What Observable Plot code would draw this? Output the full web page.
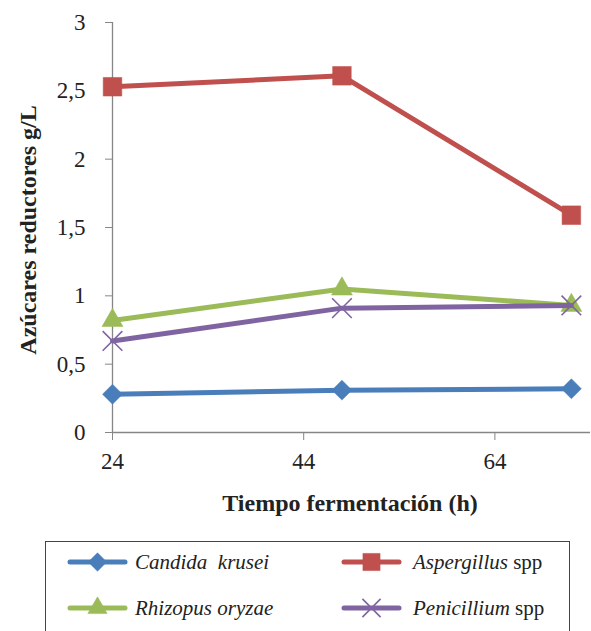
<!DOCTYPE html>
<html>
<head>
<meta charset="utf-8">
<script src="https://cdn.jsdelivr.net/npm/d3@7"></script>
<script src="https://cdn.jsdelivr.net/npm/@observablehq/plot@0.6"></script>
<style>
  html, body { margin: 0; padding: 0; background: #fff; }
  #wrap { position: relative; width: 591px; height: 631px; overflow: hidden; font-family: "Liberation Serif", "Times New Roman", serif; color: #222; }
  #wrap svg text { font-family: "Liberation Serif", "Times New Roman", serif; }
  .axis-title { position: absolute; font-weight: bold; font-size: 24px; white-space: nowrap; line-height: 1; }
  #legend { position: absolute; left: 45px; top: 541px; width: 525px; height: 120px; border: 1px solid #444; box-sizing: border-box; background: #fff; }
  .sw { position: absolute; }
  .lt { position: absolute; font-size: 21px; white-space: pre; line-height: 24px; height: 24px; }
</style>
</head>
<body>
<div id="wrap"></div>
<script>
// ---- data ----
const hours = [24, 48, 72];
const candida = [0.28, 0.31, 0.32];
const aspergillus = [2.53, 2.61, 1.59];
const rhizopus = [0.82, 1.05, 0.93];
const penicillium = [0.67, 0.91, 0.93];

const seriesNames = ["Candida krusei", "Aspergillus spp", "Rhizopus oryzae", "Penicillium spp"];
const seriesValues = [candida, aspergillus, rhizopus, penicillium];
const seriesColors = ["#4A7EBB", "#C0504D", "#9BBB59", "#8064A2"];
const seriesSymbols = ["diamond2", "square", "triangle", "times"];
const seriesR = [9, 10.5, 7.8, 9];

const xTicks = [24, 44, 64];
const yTicks = [0, 0.5, 1, 1.5, 2, 2.5, 3];

const xTitle = "Tiempo fermentación (h)";
const yTitle = "Azúcares reductores g/L";

const rows = [];
seriesNames.forEach((s, i) => hours.forEach((h, j) => rows.push({series: s, hour: h, value: seriesValues[i][j]})));

const axisGray = "#868686";
const fmt = d => String(d).replace(".", ",");

const dotMarks = seriesNames.map((s, i) => {
  const data = rows.filter(r => r.series === s);
  const isTimes = seriesSymbols[i] === "times";
  return Plot.dot(data, {
    x: "hour", y: "value", symbol: () => seriesSymbols[i], r: seriesR[i],
    fill: isTimes ? "none" : seriesColors[i],
    stroke: seriesColors[i], strokeWidth: isTimes ? 1.6 : 0.5
  });
});
const lineMarks = seriesNames.map((s, i) => Plot.line(rows.filter(r => r.series === s), {
  x: "hour", y: "value", stroke: seriesColors[i], strokeWidth: 5
}));

const marks = [
  Plot.ruleY([0], {stroke: axisGray, strokeWidth: 1.3}),
  Plot.ruleX([24], {stroke: axisGray, strokeWidth: 1.3}),
  Plot.axisX({ticks: xTicks, tickSize: 8, tickPadding: 12, stroke: axisGray, fill: "#222", label: null, tickFormat: d => String(d)}),
  Plot.axisY({ticks: yTicks, tickSize: 7, tickPadding: 20, stroke: axisGray, fill: "#222", label: null, tickFormat: fmt})
];
seriesNames.forEach((s, i) => { marks.push(lineMarks[i]); marks.push(dotMarks[i]); });

const chart = Plot.plot({
  width: 591, height: 530,
  marginLeft: 112, marginRight: 1, marginTop: 22, marginBottom: 98,
  x: {domain: [24, 74]},
  y: {domain: [0, 3]},
  symbol: {type: "identity"},
  style: {fontFamily: "'Liberation Serif', 'Times New Roman', serif", fontSize: "23px", background: "#fff", color: "#222", overflow: "visible"},
  marks
});

const wrap = document.getElementById("wrap");
wrap.appendChild(chart);

const yt = document.createElement("div");
yt.className = "axis-title";
yt.textContent = yTitle;
yt.style.left = "28px"; yt.style.top = "230px";
yt.style.transform = "translate(-50%, -50%) rotate(-90deg)";
wrap.appendChild(yt);

const xt = document.createElement("div");
xt.className = "axis-title";
xt.textContent = xTitle;
xt.style.left = "350px"; xt.style.top = "503px";
xt.style.transform = "translate(-50%, -50%)";
wrap.appendChild(xt);

// legend
const legend = document.createElement("div");
legend.id = "legend";
wrap.appendChild(legend);
const legendLabels = [
  ["Candida  krusei", ""],
  ["Aspergillus", " spp"],
  ["Rhizopus oryzae", ""],
  ["Penicillium", " spp"]
];
// [swatch left, text left, row center] relative to legend box
const pos = [[21, 89, 20], [295, 367, 20], [21, 89, 66], [295, 367, 66]];
const symMap = {diamond2: d3.symbolDiamond2, square: d3.symbolSquare, triangle: d3.symbolTriangle, times: d3.symbolTimes};
seriesNames.forEach((s, i) => {
  const svg = d3.create("svg").attr("class", "sw").attr("width", 61).attr("height", 26)
    .style("left", pos[i][0] + "px").style("top", (pos[i][2] - 13) + "px");
  svg.append("line").attr("x1", 3).attr("x2", 58).attr("y1", 13).attr("y2", 13)
    .attr("stroke", seriesColors[i]).attr("stroke-width", 5).attr("stroke-linecap", "round");
  const size = Math.PI * seriesR[i] * seriesR[i] * 0.85;
  const isTimes = seriesSymbols[i] === "times";
  svg.append("path").attr("transform", "translate(30.5,13)")
    .attr("d", d3.symbol(symMap[seriesSymbols[i]], size)())
    .attr("fill", isTimes ? "none" : seriesColors[i])
    .attr("stroke", seriesColors[i]).attr("stroke-width", isTimes ? 1.6 : 0.5);
  legend.appendChild(svg.node());
  const txt = document.createElement("div");
  txt.className = "lt";
  txt.style.left = pos[i][1] + "px";
  txt.style.top = (pos[i][2] - 12) + "px";
  const it = document.createElement("i");
  it.textContent = legendLabels[i][0];
  txt.appendChild(it);
  if (legendLabels[i][1]) txt.appendChild(document.createTextNode(legendLabels[i][1]));
  legend.appendChild(txt);
});
</script>
</body>
</html>
